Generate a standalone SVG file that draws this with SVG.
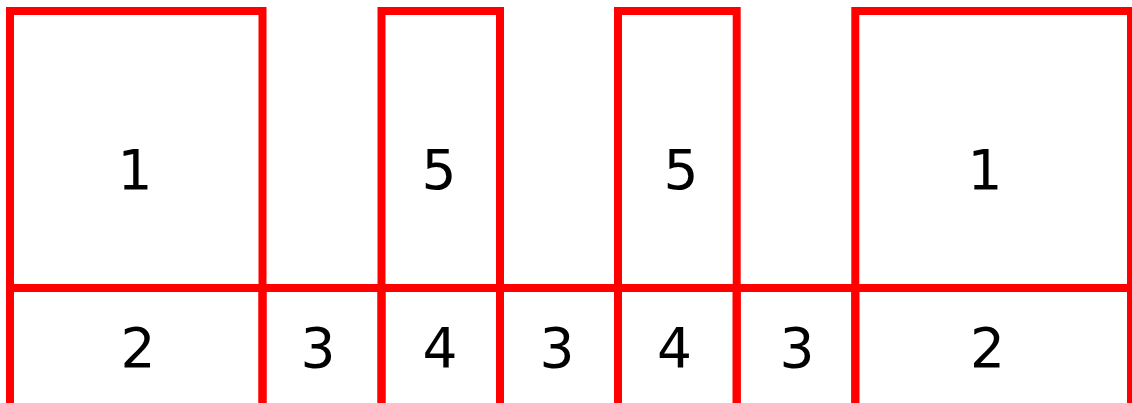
<svg xmlns="http://www.w3.org/2000/svg" width="1132" height="403" viewBox="0 0 1132 403">
<style>
.b{fill:none;stroke:#ff0000;stroke-width:8}
.t{font-family:"DejaVu Sans",Verdana,sans-serif;font-size:55px;fill:#000;text-anchor:middle}
</style>
<rect width="1132" height="403" fill="#fff"/>
<g id="n1a"><rect class="b" x="10" y="11" width="252.5" height="277"/><text class="t" x="135" y="189">1</text></g>
<g id="n5a"><rect class="b" x="381.5" y="11" width="118.5" height="277"/><text class="t" x="439" y="189">5</text></g>
<g id="n5b"><rect class="b" x="618" y="11" width="118.7" height="277"/><text class="t" x="681" y="189">5</text></g>
<g id="n1b"><rect class="b" x="855.3" y="11" width="275.7" height="277"/><text class="t" x="985" y="189">1</text></g>
<g id="n2a"><rect class="b" x="10" y="288" width="252.5" height="130"/><text class="t" x="138" y="367">2</text></g>
<g id="n3a"><rect class="b" x="262.5" y="288" width="119" height="130"/><text class="t" x="318" y="367">3</text></g>
<g id="n4a"><rect class="b" x="381.5" y="288" width="118.5" height="130"/><text class="t" x="440" y="367">4</text></g>
<g id="n3b"><rect class="b" x="500" y="288" width="118" height="130"/><text class="t" x="557" y="367">3</text></g>
<g id="n4b"><rect class="b" x="618" y="288" width="118.7" height="130"/><text class="t" x="674.5" y="367">4</text></g>
<g id="n3c"><rect class="b" x="736.7" y="288" width="118.6" height="130"/><text class="t" x="797" y="367">3</text></g>
<g id="n2b"><rect class="b" x="855.3" y="288" width="275.7" height="130"/><text class="t" x="987.5" y="367">2</text></g>
<g id="connectors"></g>
</svg>
